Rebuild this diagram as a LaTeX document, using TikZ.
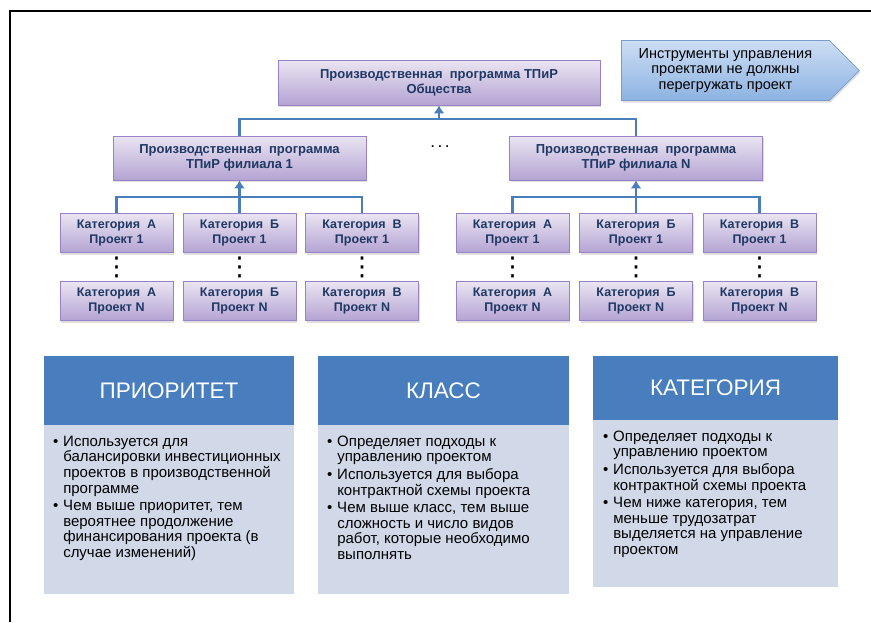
\documentclass[tikz,border=0pt]{standalone}
\usepackage{fontspec}
\setmainfont{Liberation Sans}
\newfontfamily\symfont{DejaVu Sans}
\usetikzlibrary{positioning}
\usetikzlibrary{shapes.symbols,shadows,arrows.meta}
\definecolor{lilac}{RGB}{234,229,242}
\definecolor{lilacdark}{RGB}{180,163,211}
\definecolor{lilacline}{RGB}{150,130,196}
\definecolor{navytext}{RGB}{31,56,100}
\definecolor{linkblue}{RGB}{74,126,187}
\definecolor{headblue}{RGB}{72,126,190}
\definecolor{bodyblue}{RGB}{209,217,233}
\definecolor{skytop}{RGB}{205,222,244}
\definecolor{skybot}{RGB}{140,178,226}
\definecolor{skyline}{RGB}{120,156,208}

\tikzset{
  unit/.style={draw=lilacline, line width=0.8pt, top color=lilac, bottom color=lilacdark,
    text=navytext, font=\bfseries\fontsize{13}{15}\selectfont, align=center, inner sep=0pt,
    drop shadow={opacity=0.25, shadow xshift=1pt, shadow yshift=-2pt}},
  leaf/.style={unit, minimum width=113pt, minimum height=39pt, font=\bfseries\fontsize{12.5}{15}\selectfont},
  branch/.style={unit, minimum width=253pt, minimum height=44pt},
  link/.style={draw=linkblue, line width=2.5pt},
  uparrow/.style={link, -{Latex[length=8pt,width=11pt]}},
  vdots/.style={font=\symfont\fontsize{26}{26}\selectfont, inner sep=0pt},
  headbox/.style={fill=headblue, text=white, font=\fontsize{22.5}{26}\selectfont, minimum width=250pt, inner sep=0pt},
  bodybox/.style={fill=bodyblue, minimum width=250pt, inner sep=0pt},
  bullets/.style={anchor=north west, inner sep=0pt, align=left, font=\fontsize{15}{15.5}\selectfont}
}

\begin{document}
\begin{tikzpicture}[x=1pt,y=-1pt]
\useasboundingbox (0,0) rectangle (871,622);
\draw[line width=2pt] (10,622) -- (10,11) -- (871,11);

\node[unit, minimum width=322pt, minimum height=45pt] (top) at (439,82.5) {Производственная~~программа ТПиР\\Общества};
\node[draw=skyline, line width=0.8pt, top color=skytop, bottom color=skybot, shape=signal, signal to=east,
  signal pointer angle=90, minimum width=238pt, minimum height=60pt, inner sep=0pt, align=center,
  font=\fontsize{14.5}{15.5}\selectfont, drop shadow={opacity=0.25, shadow xshift=1pt, shadow yshift=-2pt},
  anchor=west] (note) at (621,70.5) {Инструменты управления\\проектами не должны\\перегружать проект};

\node[branch] (b1) at (239.5,158) {Производственная~~программа\\ТПиР филиала 1};
\node[branch] (bn) at (636,158) {Производственная~~программа\\ТПиР филиала N};
\node[font=\bfseries\fontsize{12}{14}\selectfont] (gap) at (440,147) {.\,\,.\,\,.};

\node[leaf] (a1) at (116.5,233) {Категория~~А\\Проект 1};
\node[leaf] (g1) at (239.5,233) {Категория~~Б\\Проект 1};
\node[leaf] (v1) at (362,233) {Категория~~В\\Проект 1};
\node[leaf] (an) at (116.5,301) {Категория~~А\\Проект N};
\node[leaf] (gn) at (239.5,301) {Категория~~Б\\Проект N};
\node[leaf] (vn) at (362,301) {Категория~~В\\Проект N};

\node[leaf] (a2) at (512.5,233) {Категория~~А\\Проект 1};
\node[leaf] (g2) at (636,233) {Категория~~Б\\Проект 1};
\node[leaf] (v2) at (759.5,233) {Категория~~В\\Проект 1};
\node[leaf] (a2n) at (512.5,301) {Категория~~А\\Проект N};
\node[leaf] (g2n) at (636,301) {Категория~~Б\\Проект N};
\node[leaf] (v2n) at (759.5,301) {Категория~~В\\Проект N};

\node[vdots] at (a1.south |- 0,267) {⋮};
\node[vdots] at (g1.south |- 0,267) {⋮};
\node[vdots] at (v1.south |- 0,267) {⋮};
\node[vdots] at (a2.south |- 0,267) {⋮};
\node[vdots] at (g2.south |- 0,267) {⋮};
\node[vdots] at (v2.south |- 0,267) {⋮};

\coordinate (jt) at (top.south |- 0,119);
\draw[link] (b1.north) |- (jt) -| (bn.north);
\draw[uparrow] (jt) -- (top.south);
\coordinate (j1) at (g1.north |- 0,197);
\draw[link] (a1.north) |- (j1) -| (v1.north);
\draw[uparrow] (g1.north) -- (b1.south);
\coordinate (j2) at (g2.north |- 0,197);
\draw[link] (a2.north) |- (j2) -| (v2.north);
\draw[uparrow] (g2.north) -- (bn.south);

\node[headbox, minimum height=69pt] (prh) at (169,390.5) {ПРИОРИТЕТ};
\node[bodybox, minimum height=169pt, below=0pt of prh] (prb) {};
\node[bullets] at ([xshift=9pt,yshift=-10pt]prb.north west) {\begin{tabular}{@{}l@{\hspace{5pt}}l@{}}
\textbullet & Используется для\\
 & балансировки инвестиционных\\
 & проектов в производственной\\
 & программе\\[2pt]
\textbullet & Чем выше приоритет, тем\\
 & вероятнее продолжение\\
 & финансирования проекта (в\\
 & случае изменений)
\end{tabular}};

\node[headbox, minimum width=251pt, minimum height=69pt] (klh) at (443.5,390.5) {КЛАСС};
\node[bodybox, minimum width=251pt, minimum height=169pt, below=0pt of klh] (klb) {};
\node[bullets] at ([xshift=9pt,yshift=-10pt]klb.north west) {\begin{tabular}{@{}l@{\hspace{5pt}}l@{}}
\textbullet & Определяет подходы к\\
 & управлению проектом\\[2pt]
\textbullet & Используется для выбора\\
 & контрактной схемы проекта\\[2pt]
\textbullet & Чем выше класс, тем выше\\
 & сложность и число видов\\
 & работ, которые необходимо\\
 & выполнять
\end{tabular}};

\node[headbox, minimum width=245pt, minimum height=64pt] (kth) at (715.5,388) {КАТЕГОРИЯ};
\node[bodybox, minimum width=245pt, minimum height=167pt, below=0pt of kth] (ktb) {};
\node[bullets] at ([xshift=10pt,yshift=-10pt]ktb.north west) {\begin{tabular}{@{}l@{\hspace{5pt}}l@{}}
\textbullet & Определяет подходы к\\
 & управлению проектом\\[2pt]
\textbullet & Используется для выбора\\
 & контрактной схемы проекта\\[2pt]
\textbullet & Чем ниже категория, тем\\
 & меньше трудозатрат\\
 & выделяется на управление\\
 & проектом
\end{tabular}};
\end{tikzpicture}
\end{document}
